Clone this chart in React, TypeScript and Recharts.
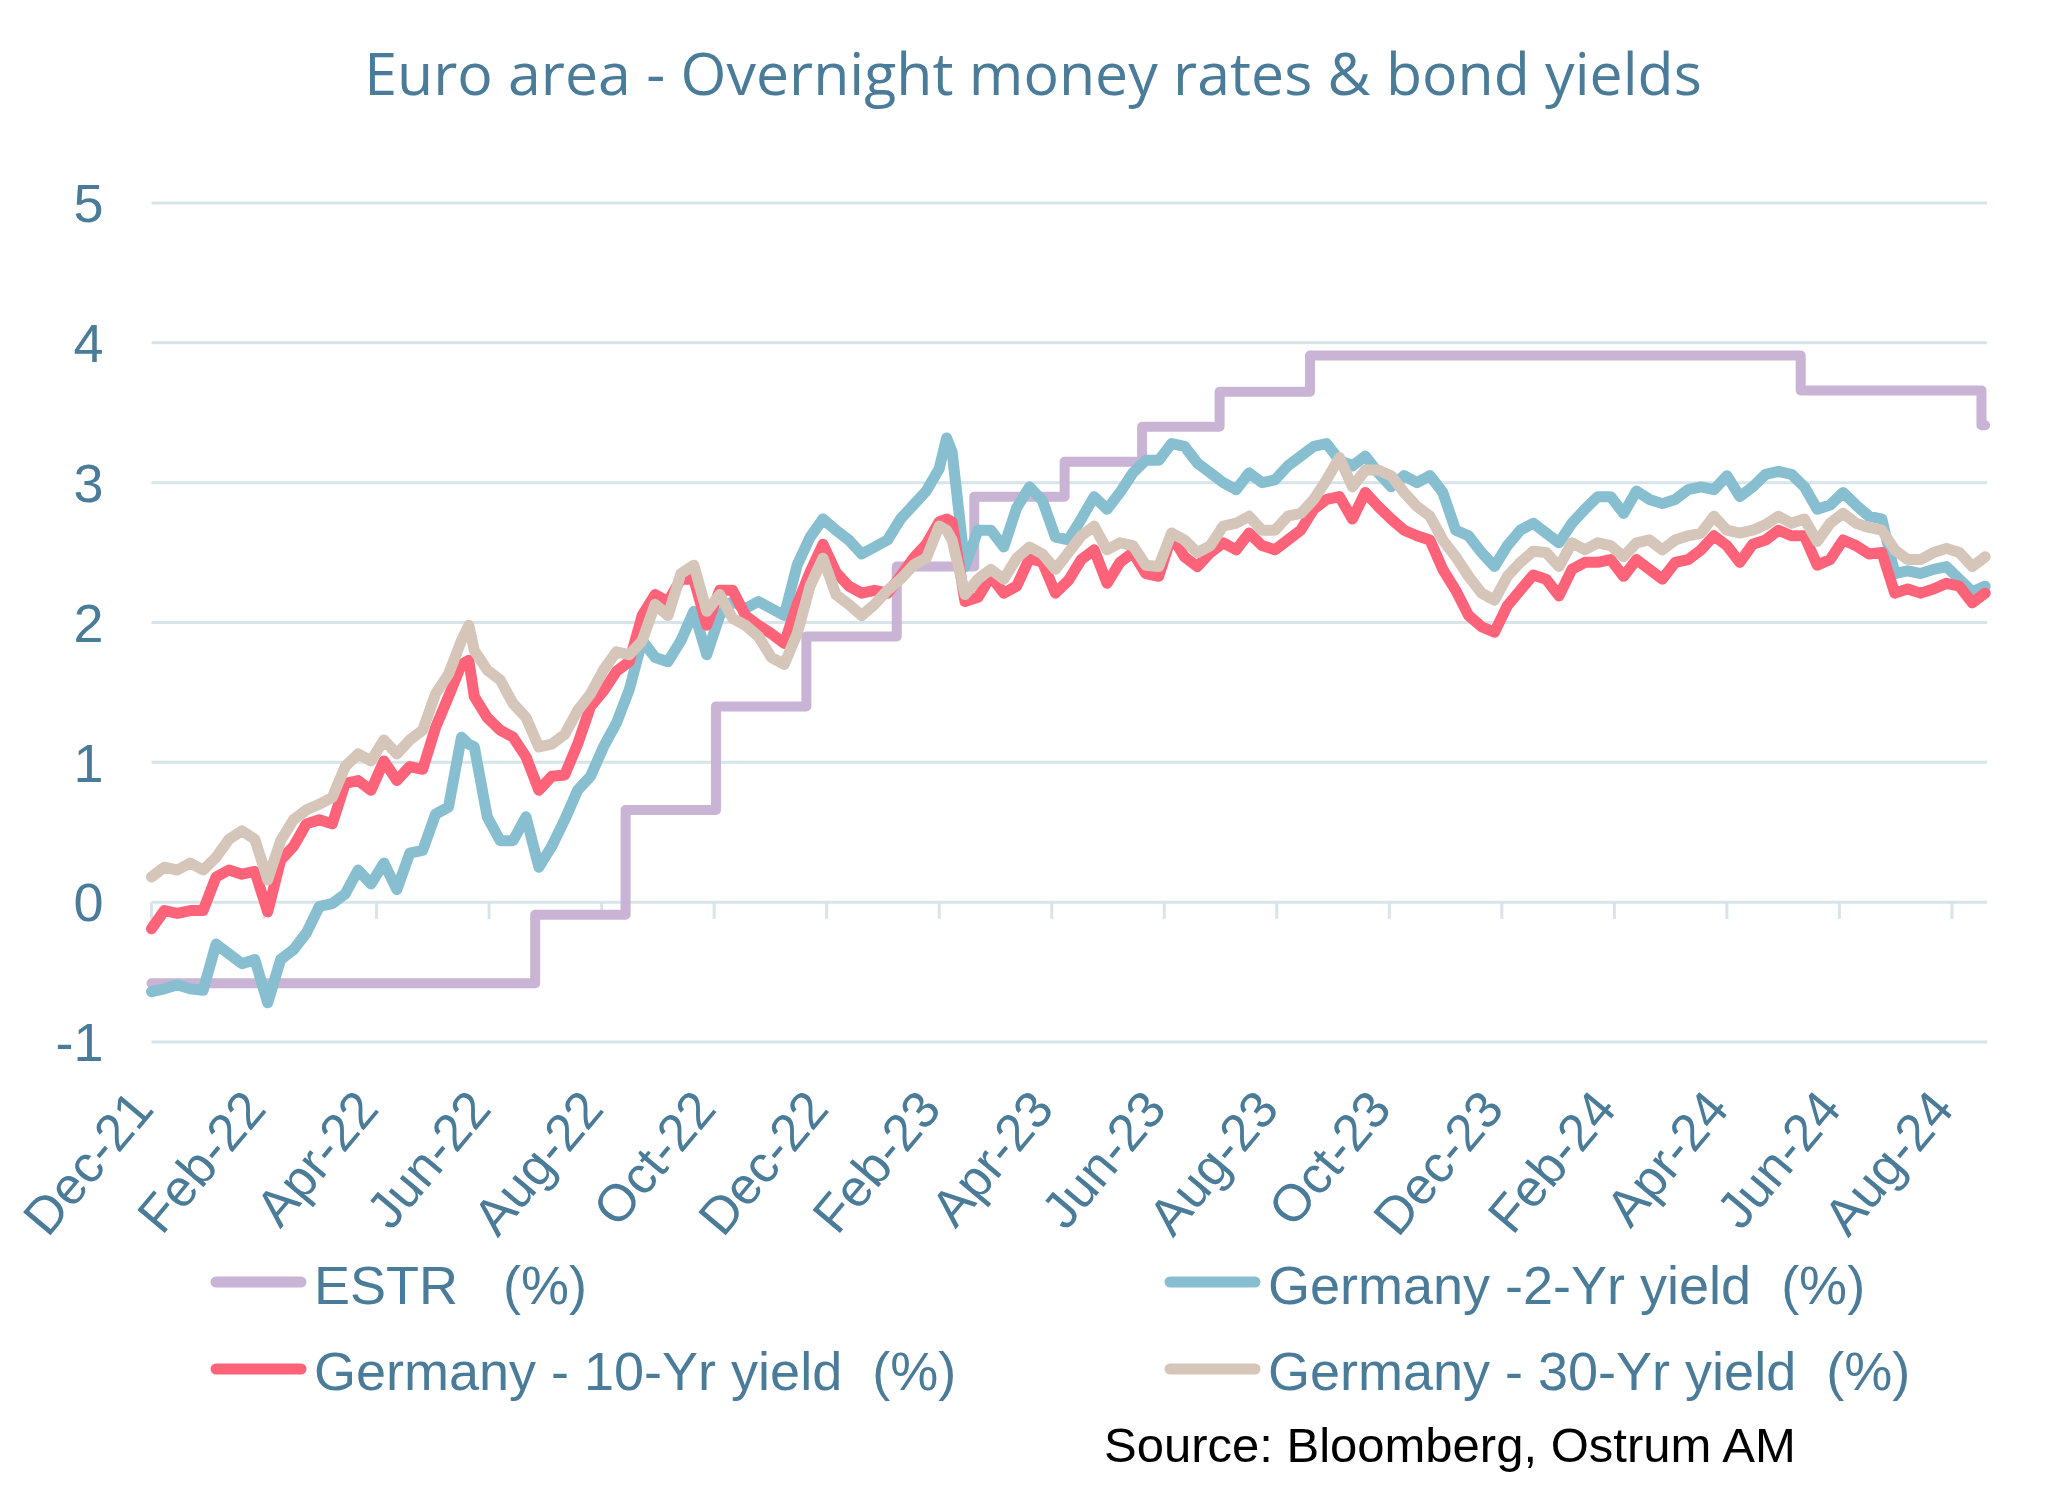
import { LineChart, Line, XAxis, YAxis, CartesianGrid, ReferenceLine } from "recharts";

const TEXT = "#4a7b98";
const GRID = "#d7e5ea";
const FONT = "'Liberation Sans', Arial, sans-serif";

// days since 31-Dec-2021 (weekly closes, plus a couple of turning points)
const days = [
  0, 7, 14, 21, 28, 35, 42, 49, 56, 63,
  70, 77, 84, 91, 98, 105, 112, 119, 126, 133,
  140, 147, 154, 161, 168, 172, 175, 182, 189, 196,
  203, 210, 217, 224, 231, 238, 245, 252, 259, 266,
  273, 280, 287, 294, 301, 308, 315, 322, 329, 336,
  343, 350, 357, 364, 371, 378, 385, 392, 399, 406,
  413, 420, 427, 431, 434, 441, 448, 455, 462, 469,
  476, 483, 490, 497, 504, 511, 518, 525, 532, 539,
  546, 553, 560, 567, 574, 581, 588, 595, 602, 609,
  616, 623, 630, 637, 644, 651, 658, 665, 672, 679,
  686, 693, 700, 707, 714, 721, 728, 735, 742, 749,
  756, 763, 770, 777, 784, 791, 798, 805, 812, 819,
  826, 833, 840, 847, 854, 861, 868, 875, 882, 889,
  896, 903, 910, 917, 924, 931, 938, 945, 952, 959,
  966, 973, 980, 987, 994,
];

const de2y = [
  -0.64, -0.62, -0.59, -0.62, -0.63, -0.3, -0.37, -0.44, -0.41, -0.72,
  -0.41, -0.34, -0.22, -0.03, -0.01, 0.06, 0.23, 0.13, 0.28, 0.09,
  0.35, 0.37, 0.63, 0.68, 1.18, 1.13, 1.11, 0.61, 0.44, 0.44,
  0.61, 0.25, 0.4, 0.59, 0.8, 0.9, 1.11, 1.28, 1.52, 1.87,
  1.75, 1.72, 1.87, 2.08, 1.77, 2.05, 2.15, 2.1, 2.15, 2.1,
  2.05, 2.41, 2.61, 2.74, 2.66, 2.59, 2.49, 2.54, 2.59, 2.74,
  2.84, 2.94, 3.1, 3.32, 3.22, 2.4, 2.66, 2.66, 2.54, 2.82,
  2.97, 2.87, 2.61, 2.59, 2.74, 2.9, 2.81, 2.93, 3.07, 3.16,
  3.16, 3.28, 3.26, 3.14, 3.07, 3.0, 2.95, 3.07, 3.0, 3.02,
  3.12, 3.19, 3.26, 3.28, 3.16, 3.12, 3.19, 3.07, 2.97, 3.05,
  3.0, 3.05, 2.93, 2.66, 2.62, 2.5, 2.4, 2.55, 2.66, 2.71,
  2.64, 2.57, 2.71, 2.81, 2.9, 2.9, 2.78, 2.94, 2.88, 2.85,
  2.88, 2.95, 2.97, 2.95, 3.05, 2.9, 2.97, 3.06, 3.08, 3.06,
  2.97, 2.81, 2.84, 2.93, 2.84, 2.76, 2.74, 2.35, 2.37, 2.35,
  2.38, 2.4, 2.31, 2.22, 2.26,
];

const de10y = [
  -0.19, -0.06, -0.08, -0.06, -0.06, 0.18, 0.23, 0.2, 0.22, -0.07,
  0.3, 0.4, 0.56, 0.59, 0.56, 0.85, 0.87, 0.8, 1.01, 0.87,
  0.97, 0.95, 1.25, 1.47, 1.7, 1.73, 1.47, 1.32, 1.23, 1.18,
  1.04, 0.8, 0.9, 0.91, 1.13, 1.4, 1.51, 1.65, 1.72, 2.05,
  2.2, 2.15, 2.31, 2.31, 1.98, 2.23, 2.23, 2.05, 1.98, 1.92,
  1.85, 2.13, 2.36, 2.56, 2.36, 2.26, 2.21, 2.23, 2.21, 2.33,
  2.46, 2.56, 2.72, 2.74, 2.72, 2.15, 2.18, 2.33, 2.21, 2.26,
  2.46, 2.43, 2.21, 2.3, 2.45, 2.52, 2.28, 2.43, 2.5, 2.35,
  2.33, 2.62, 2.47, 2.4, 2.5, 2.57, 2.52, 2.64, 2.55, 2.52,
  2.59, 2.66, 2.81, 2.88, 2.9, 2.74, 2.93, 2.83, 2.74, 2.66,
  2.62, 2.59, 2.38, 2.23, 2.05, 1.97, 1.93, 2.12, 2.23, 2.34,
  2.31, 2.19, 2.38, 2.43, 2.43, 2.45, 2.33, 2.45, 2.38, 2.31,
  2.43, 2.45, 2.52, 2.62, 2.55, 2.43, 2.56, 2.59, 2.66, 2.62,
  2.62, 2.41, 2.45, 2.59, 2.55, 2.49, 2.5, 2.21, 2.24, 2.21,
  2.24, 2.28, 2.26, 2.14, 2.21,
];

const de30y = [
  0.18, 0.25, 0.23, 0.28, 0.23, 0.32, 0.45, 0.51, 0.45, 0.16,
  0.44, 0.59, 0.66, 0.7, 0.75, 0.97, 1.06, 1.01, 1.16, 1.06,
  1.16, 1.23, 1.49, 1.63, 1.87, 1.98, 1.8, 1.66, 1.59, 1.42,
  1.32, 1.11, 1.13, 1.2, 1.37, 1.49, 1.66, 1.79, 1.77, 1.87,
  2.13, 2.05, 2.35, 2.41, 2.08, 2.2, 2.03, 1.98, 1.9, 1.75,
  1.7, 1.92, 2.26, 2.46, 2.2, 2.13, 2.05, 2.13, 2.23, 2.31,
  2.41, 2.46, 2.69, 2.66, 2.59, 2.2, 2.31, 2.38, 2.31, 2.46,
  2.54, 2.49, 2.38, 2.5, 2.62, 2.69, 2.52, 2.57, 2.55, 2.41,
  2.4, 2.64, 2.59, 2.5, 2.55, 2.69, 2.71, 2.76, 2.66, 2.66,
  2.76, 2.78, 2.88, 3.02, 3.18, 2.97, 3.09, 3.09, 3.05, 2.93,
  2.83, 2.76, 2.59, 2.47, 2.33, 2.21, 2.16, 2.33, 2.43, 2.51,
  2.5, 2.4, 2.57, 2.52, 2.57, 2.55, 2.47, 2.57, 2.59, 2.52,
  2.59, 2.62, 2.64, 2.76, 2.66, 2.64, 2.66, 2.7, 2.76, 2.71,
  2.74, 2.58, 2.71, 2.78, 2.71, 2.68, 2.66, 2.52, 2.45, 2.45,
  2.5, 2.53, 2.5, 2.4, 2.47,
];

// ESTR only moves after ECB decisions
const estrDays = [0, 208, 257, 306, 355, 404, 446, 495, 537, 579, 628, 894, 992, 994];
const estrLevels = [-0.58, -0.09, 0.66, 1.4, 1.9, 2.4, 2.9, 3.15, 3.4, 3.65, 3.91, 3.66, 3.41, 3.41];

const tickDays = [0, 61, 122, 183, 244, 305, 366, 427, 488, 549, 610, 671, 732, 793, 854, 915, 976];
const tickLabels = [
  "Dec-21", "Feb-22", "Apr-22", "Jun-22", "Aug-22", "Oct-22", "Dec-22", "Feb-23", "Apr-23",
  "Jun-23", "Aug-23", "Oct-23", "Dec-23", "Feb-24", "Apr-24", "Jun-24", "Aug-24",
];
const yTicks = [-1, 0, 1, 2, 3, 4, 5];

const series = [
  { key: "estr", name: "ESTR   (%)", color: "#c9b4d6" },
  { key: "de2y", name: "Germany -2-Yr yield  (%)", color: "#87bfd1" },
  { key: "de10y", name: "Germany - 10-Yr yield  (%)", color: "#fe6379" },
  { key: "de30y", name: "Germany - 30-Yr yield  (%)", color: "#d6c5b9" },
];

const yieldRows = days.map((day, i) => ({ day, de2y: de2y[i], de10y: de10y[i], de30y: de30y[i] }));
const estrRows = estrDays.map((day, i) => ({ day, estr: estrLevels[i] }));

function DateTick({ x, y, payload }: any) {
  const label = tickLabels[tickDays.indexOf(payload.value)];
  return (
    <g transform={`translate(${x + 4},${y + 66})`}>
      <text textAnchor="end" transform="rotate(-50)" fontSize={52} fill={TEXT} fontFamily={FONT}>
        {label}
      </text>
    </g>
  );
}

// legend slots: [symbol x, text x, centre y, baseline y]
const legendPos = [
  [203, 306, 1274, 1296],
  [1157, 1260, 1274, 1296],
  [203, 306, 1361, 1382],
  [1157, 1260, 1361, 1382],
];

export default function App() {
  return (
    <div style={{ position: "relative", width: 2050, height: 1493, background: "#fff" }}>
      <LineChart
        width={2050}
        height={1260}
        data={yieldRows}
        margin={{ top: 195, right: 71, left: 23.5, bottom: 0 }}
      >
        <CartesianGrid vertical={false} stroke={GRID} strokeWidth={3} />
        <XAxis
          type="number"
          dataKey="day"
          domain={[0, 995]}
          ticks={tickDays}
          interval={0}
          axisLine={false}
          tickLine={false}
          tickSize={0}
          height={226}
          tick={<DateTick />}
        />
        <YAxis
          type="number"
          domain={[-1, 5]}
          ticks={yTicks}
          interval={0}
          width={120}
          axisLine={false}
          tickLine={false}
          tickSize={0}
          tickMargin={48}
          tick={{ fontSize: 54, fill: TEXT, fontFamily: FONT }}
        />
        {tickDays.map((d) => (
          <ReferenceLine
            key={d}
            segment={[{ x: d, y: 0 }, { x: d, y: -0.12 }]}
            stroke={GRID}
            strokeWidth={3}
          />
        ))}
        <Line
          data={estrRows}
          dataKey="estr"
          type="stepAfter"
          stroke={series[0].color}
          strokeWidth={10}
          dot={false}
          strokeLinejoin="round"
          strokeLinecap="round"
          isAnimationActive={false}
        />
        {series.slice(1).map((s) => (
          <Line
            key={s.key}
            dataKey={s.key}
            type="linear"
            stroke={s.color}
            strokeWidth={11}
            dot={false}
            strokeLinejoin="round"
            strokeLinecap="round"
            isAnimationActive={false}
          />
        ))}
      </LineChart>

      <svg
        width={2050}
        height={1493}
        style={{ position: "absolute", left: 0, top: 0, pointerEvents: "none" }}
      >
        <text
          x={1025}
          y={87}
          textAnchor="middle"
          fontSize={59}
          fill={TEXT}
          fontFamily="'Open Sans', sans-serif"
        >
          Euro area - Overnight money rates &amp; bond yields
        </text>
        {series.map((s, i) => {
          const [sx, tx, cy, by] = legendPos[i];
          return (
            <g key={s.key}>
              <line x1={sx + 5} x2={sx + 90} y1={cy} y2={cy} stroke={s.color} strokeWidth={11} strokeLinecap="round" />
              <text x={tx} y={by} fontSize={54} fill={TEXT} fontFamily={FONT} style={{ whiteSpace: "pre" }}>
                {s.name}
              </text>
            </g>
          );
        })}
        <text x={1096} y={1454} fontSize={49} fill="#000" fontFamily={FONT}>
          Source: Bloomberg, Ostrum AM
        </text>
      </svg>
    </div>
  );
}
